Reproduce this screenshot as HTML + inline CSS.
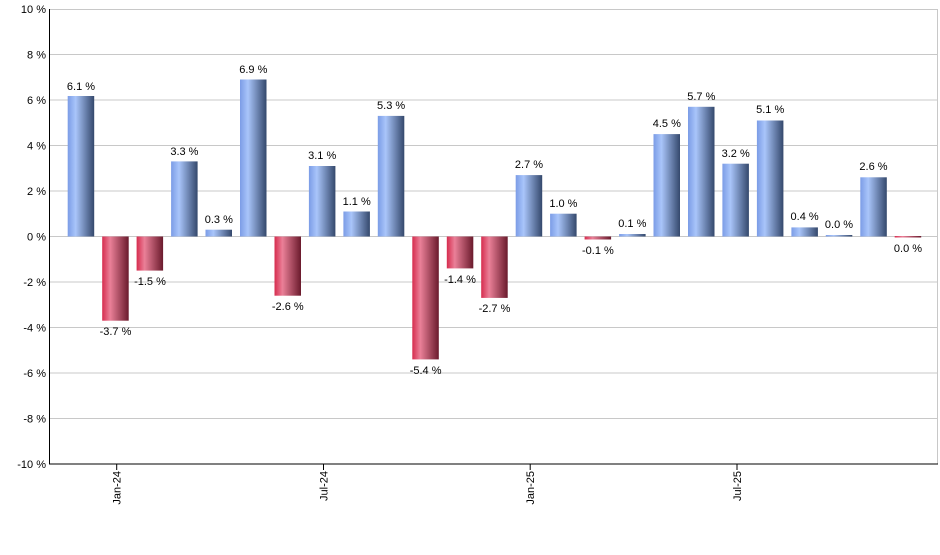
<!DOCTYPE html>
<html><head><meta charset="utf-8"><style>
body{margin:0;background:#fff}
text{font-family:"Liberation Sans",sans-serif;font-size:11px;fill:#000}
</style></head><body>
<svg width="940" height="550" xmlns="http://www.w3.org/2000/svg">
<defs>
<linearGradient id="b" x1="0" x2="1" y1="0" y2="0">
<stop offset="0" stop-color="#7b9ce6"/><stop offset="0.3" stop-color="#a9c5fa"/><stop offset="1" stop-color="#34486c"/></linearGradient>
<linearGradient id="r" x1="0" x2="1" y1="0" y2="0">
<stop offset="0" stop-color="#d62c4e"/><stop offset="0.3" stop-color="#ea8098"/><stop offset="1" stop-color="#6a1a2c"/></linearGradient>
</defs>
<g stroke="#c8c8c8" stroke-width="1">
<line x1="50" x2="938" y1="9.5" y2="9.5"/>
<line x1="50" x2="938" y1="54.5" y2="54.5"/><line x1="50" x2="938" y1="100" y2="100"/>
<line x1="50" x2="938" y1="145.5" y2="145.5"/><line x1="50" x2="938" y1="191" y2="191"/>
<line x1="50" x2="938" y1="236.5" y2="236.5"/><line x1="50" x2="938" y1="282" y2="282"/>
<line x1="50" x2="938" y1="327.5" y2="327.5"/><line x1="50" x2="938" y1="373" y2="373"/>
<line x1="50" x2="938" y1="418.5" y2="418.5"/>
<line x1="937.5" x2="937.5" y1="9" y2="464"/>
</g>
<g text-anchor="end">
<text x="46" y="13">10 %</text><text x="46" y="58.5">8 %</text><text x="46" y="104">6 %</text>
<text x="46" y="149.5">4 %</text><text x="46" y="195">2 %</text><text x="46" y="240.5">0 %</text>
<text x="46" y="286">-2 %</text><text x="46" y="331.5">-4 %</text><text x="46" y="377">-6 %</text>
<text x="46" y="422.5">-8 %</text><text x="46" y="468">-10 %</text>
</g>
<g>
<rect x="67.7" y="96" width="26.5" height="140.5" fill="url(#b)"/>
<rect x="102.2" y="236.5" width="26.5" height="84.2" fill="url(#r)"/>
<rect x="136.6" y="236.5" width="26.5" height="34.1" fill="url(#r)"/>
<rect x="171.1" y="161.4" width="26.5" height="75.1" fill="url(#b)"/>
<rect x="205.5" y="229.7" width="26.5" height="6.8" fill="url(#b)"/>
<rect x="240" y="79.5" width="26.5" height="157" fill="url(#b)"/>
<rect x="274.5" y="236.5" width="26.5" height="59.2" fill="url(#r)"/>
<rect x="308.9" y="166" width="26.5" height="70.5" fill="url(#b)"/>
<rect x="343.4" y="211.5" width="26.5" height="25" fill="url(#b)"/>
<rect x="377.8" y="115.9" width="26.5" height="120.6" fill="url(#b)"/>
<rect x="412.3" y="236.5" width="26.5" height="122.9" fill="url(#r)"/>
<rect x="446.8" y="236.5" width="26.5" height="31.9" fill="url(#r)"/>
<rect x="481.2" y="236.5" width="26.5" height="61.4" fill="url(#r)"/>
<rect x="515.7" y="175.1" width="26.5" height="61.4" fill="url(#b)"/>
<rect x="550.1" y="213.7" width="26.5" height="22.8" fill="url(#b)"/>
<rect x="584.6" y="236.5" width="26.5" height="3" fill="url(#r)"/>
<rect x="619.1" y="234" width="26.5" height="2.5" fill="url(#b)"/>
<rect x="653.5" y="134.1" width="26.5" height="102.4" fill="url(#b)"/>
<rect x="688" y="106.8" width="26.5" height="129.7" fill="url(#b)"/>
<rect x="722.4" y="163.7" width="26.5" height="72.8" fill="url(#b)"/>
<rect x="756.9" y="120.5" width="26.5" height="116" fill="url(#b)"/>
<rect x="791.4" y="227.4" width="26.5" height="9.1" fill="url(#b)"/>
<rect x="825.8" y="235" width="26.5" height="1.5" fill="url(#b)"/>
<rect x="860.3" y="177.3" width="26.5" height="59.2" fill="url(#b)"/>
<rect x="894.7" y="236" width="26.5" height="1.5" fill="url(#r)"/>
</g>
<g text-anchor="middle">
<text x="81" y="90">6.1 %</text>
<text x="115.5" y="335">-3.7 %</text>
<text x="150" y="285">-1.5 %</text>
<text x="184.4" y="155">3.3 %</text>
<text x="218.8" y="223">0.3 %</text>
<text x="253.3" y="73">6.9 %</text>
<text x="287.8" y="310">-2.6 %</text>
<text x="322.2" y="159">3.1 %</text>
<text x="356.7" y="205">1.1 %</text>
<text x="391.1" y="109">5.3 %</text>
<text x="425.6" y="374">-5.4 %</text>
<text x="460" y="283">-1.4 %</text>
<text x="494.5" y="312">-2.7 %</text>
<text x="529" y="168">2.7 %</text>
<text x="563.4" y="207">1.0 %</text>
<text x="597.9" y="254">-0.1 %</text>
<text x="632.3" y="227">0.1 %</text>
<text x="666.8" y="127">4.5 %</text>
<text x="701.3" y="100">5.7 %</text>
<text x="735.7" y="157">3.2 %</text>
<text x="770.2" y="113">5.1 %</text>
<text x="804.6" y="220">0.4 %</text>
<text x="839" y="228">0.0 %</text>
<text x="873.5" y="170">2.6 %</text>
<text x="908" y="252">0.0 %</text>
</g>
<g stroke="#000" stroke-width="1">
<line x1="49.5" x2="49.5" y1="9" y2="464"/>
<line x1="49" x2="938" y1="464" y2="464"/>
<line x1="116.7" x2="116.7" y1="464" y2="470"/>
<line x1="323.5" x2="323.5" y1="464" y2="470"/>
<line x1="530.2" x2="530.2" y1="464" y2="470"/>
<line x1="737" x2="737" y1="464" y2="470"/>
</g>
<g text-anchor="end">
<text transform="translate(120.7,471) rotate(-90)">Jan-24</text>
<text transform="translate(327.5,471) rotate(-90)">Jul-24</text>
<text transform="translate(534.2,471) rotate(-90)">Jan-25</text>
<text transform="translate(741,471) rotate(-90)">Jul-25</text>
</g>
</svg>
</body></html>
